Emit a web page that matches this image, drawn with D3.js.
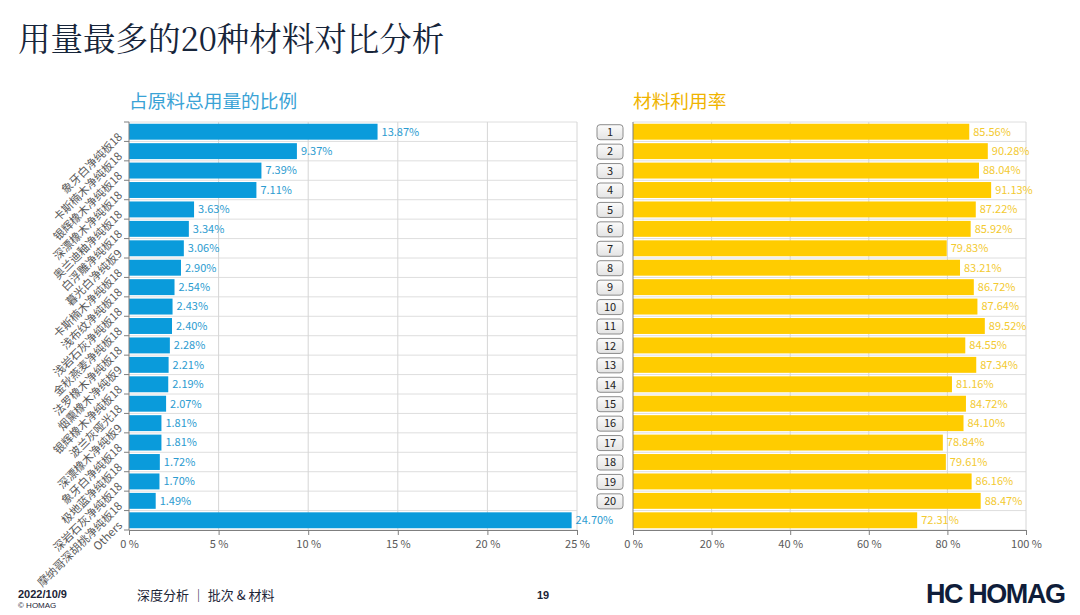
<!DOCTYPE html>
<html><head><meta charset="utf-8">
<script src="https://cdn.jsdelivr.net/npm/d3@7/dist/d3.min.js"></script>
<style>
html,body{margin:0;padding:0;background:#fff;}
svg{display:block;}
</style></head>
<body>
<svg id="chart" width="1080" height="615"></svg>
<script>
const categories = ["象牙白净纯板18","卡斯楠木净纯板18","银辉橡木净纯板18","深漂橡木净纯板18","奥兰迪釉净纯板18","白浮雕净纯板18","暮光白净纯板9","卡斯楠木净纯板18 ","浅布纹净纯板18","浅岩石灰净纯板18","金秋燕麦净纯板18","法罗橡木净纯板18","烟熏橡木净纯板9","银辉橡木净纯板18 ","波兰灰哑光18","深漂橡木净纯板9","象牙白净纯板18 ","极地蓝净纯板18","深岩石灰净纯板18","摩纳哥深胡桃净纯板18","Others"];
const shareValues = [13.87,9.37,7.39,7.11,3.63,3.34,3.06,2.90,2.54,2.43,2.40,2.28,2.21,2.19,2.07,1.81,1.81,1.72,1.70,1.49,24.70];
const utilValues = [85.56,90.28,88.04,91.13,87.22,85.92,79.83,83.21,86.72,87.64,89.52,84.55,87.34,81.16,84.72,84.10,78.84,79.61,86.16,88.47,72.31];
const rankLabels = ["1","2","3","4","5","6","7","8","9","10","11","12","13","14","15","16","17","18","19","20"];
const shareTicks = [0,5,10,15,20,25];
const utilTicks = [0,20,40,60,80,100];

const svg = d3.select("#chart");
const font = "'Noto Sans CJK SC','Noto Sans',sans-serif";
const plotTop = 122, plotBottom = 530;

const y = d3.scaleBand().domain(d3.range(categories.length)).range([plotTop, plotBottom]).paddingInner(0.18).paddingOuter(0.09);
const gapHalf = (y.step() - y.bandwidth()) / 2;
const bounds = d3.range(categories.length + 1).map(i => i < categories.length ? y(i) - gapHalf : y(i-1) + y.bandwidth() + gapHalf);

// Title
svg.append("text").attr("x", 18).attr("y", 51).attr("font-family", "'Noto Serif CJK SC','Noto Sans CJK SC',serif")
  .attr("font-size", 32.5).attr("fill", "#17253a").text("用量最多的20种材料对比分析");

// subtitles
svg.append("text").attr("x", 129).attr("y", 108).attr("font-family", font).attr("font-size", 18.7).attr("fill", "#3aa3d6").text("占原料总用量的比例");
svg.append("text").attr("x", 633).attr("y", 108).attr("font-family", font).attr("font-size", 18.7).attr("fill", "#f0b400").text("材料利用率");

function panel(x, values, ticks, color, labelColor, withCatAxis) {
  const g = svg.append("g");
  g.selectAll("line.h").data(bounds).join("line")
    .attr("x1", x.range()[0]).attr("x2", x.range()[1])
    .attr("y1", d => d).attr("y2", d => d)
    .attr("stroke", "#dedede").attr("stroke-width", 1);
  g.selectAll("line.v").data(ticks.slice(1)).join("line")
    .attr("x1", d => x(d)).attr("x2", d => x(d))
    .attr("y1", plotTop).attr("y2", plotBottom)
    .attr("stroke", "#d6d6d6").attr("stroke-width", 1);
  g.selectAll("rect.bar").data(values).join("rect")
    .attr("x", x(0)).attr("y", (d, i) => y(i))
    .attr("width", d => x(d) - x(0)).attr("height", y.bandwidth())
    .attr("fill", color);
  g.selectAll("text.val").data(values).join("text")
    .attr("x", d => x(d) + 4).attr("y", (d, i) => y(i) + y.bandwidth() / 2)
    .attr("dy", "0.35em").attr("font-family", font).attr("font-size", 11)
    .attr("fill", labelColor).text(d => d.toFixed(2) + "%");
  const ax = g.append("g").attr("transform", `translate(0,${plotBottom})`)
    .call(d3.axisBottom(x).tickValues(ticks).tickSize(5).tickSizeOuter(0).tickFormat(d => d + " %"));
  ax.select(".domain").attr("stroke", "#7f7f7f");
  ax.selectAll(".tick line").attr("stroke", "#7f7f7f");
  ax.selectAll(".tick text").attr("font-family", font).attr("font-size", 11).attr("fill", "#595959").attr("dy", "0.9em");
  g.append("line").attr("x1", x(0)).attr("x2", x(0)).attr("y1", plotTop).attr("y2", plotBottom).attr("stroke", "#7f7f7f");
  if (withCatAxis) {
    g.selectAll("line.yt").data(bounds).join("line")
      .attr("x1", x(0) - 5).attr("x2", x(0)).attr("y1", d => d).attr("y2", d => d)
      .attr("stroke", "#7f7f7f");
    g.selectAll("text.cat").data(categories).join("text")
      .attr("transform", (d, i) => `translate(${x(0) - 6},${y(i) + y.bandwidth() / 2 + 6}) rotate(-45)`)
      .attr("text-anchor", "end").attr("font-family", font).attr("font-size", 11.3)
      .attr("fill", "#595959").text(d => d.trim());
  }
  return g;
}

const xShare = d3.scaleLinear().domain([0, 25]).range([129, 577]);
const xUtil = d3.scaleLinear().domain([0, 100]).range([633, 1026]);
panel(xShare, shareValues, shareTicks, "#0a9bdb", "#2b9bd0", true);
panel(xUtil, utilValues, utilTicks, "#ffcc00", "#f3ca30", false);

const defs = svg.append("defs");
const grad = defs.append("linearGradient").attr("id", "boxg").attr("x1", 0).attr("x2", 0).attr("y1", 0).attr("y2", 1);
grad.append("stop").attr("offset", "0%").attr("stop-color", "#fbfbfb");
grad.append("stop").attr("offset", "100%").attr("stop-color", "#e4e4e4");
const rb = svg.append("g");
rb.selectAll("rect").data(rankLabels).join("rect")
  .attr("x", 597).attr("y", (d, i) => y(i) + y.bandwidth() / 2 - 7)
  .attr("width", 26).attr("height", 15).attr("rx", 3)
  .attr("fill", "url(#boxg)").attr("stroke", "#8c8c8c").attr("stroke-width", 1);
rb.selectAll("text").data(rankLabels).join("text")
  .attr("x", 610).attr("y", (d, i) => y(i) + y.bandwidth() / 2 + 0.5)
  .attr("dy", "0.35em").attr("text-anchor", "middle").attr("font-family", font)
  .attr("font-size", 11).attr("fill", "#222").text(d => d);

svg.append("text").attr("x", 18).attr("y", 598).attr("font-family", "'Liberation Sans',Arial,sans-serif").attr("font-weight", "bold").attr("font-size", 11).attr("fill", "#1b2436").text("2022/10/9");
svg.append("text").attr("x", 18).attr("y", 608).attr("font-family", "'Liberation Sans',Arial,sans-serif").attr("font-size", 8).attr("fill", "#1b2436").text("© HOMAG");
svg.append("text").attr("x", 137).attr("y", 600).attr("font-family", font).attr("font-size", 13).attr("fill", "#1b2436").text("深度分析 ｜ 批次 & 材料");
svg.append("text").attr("x", 537).attr("y", 599).attr("font-family", "'Liberation Sans',Arial,sans-serif").attr("font-weight", "bold").attr("font-size", 11).attr("fill", "#1b2436").text("19");
svg.append("text").attr("x", 926).attr("y", 603).attr("font-family", "'Liberation Sans',Arial,sans-serif").attr("font-weight", "bold").attr("font-size", 27).attr("fill", "#0f1d3a").attr("textLength", 140).text("HC HOMAG");
</script>
</body></html>
